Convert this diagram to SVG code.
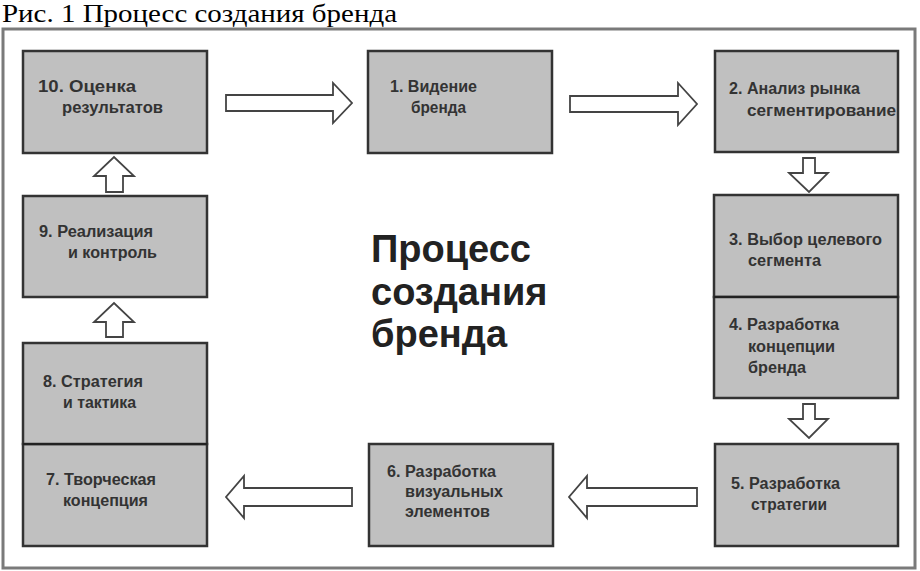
<svg xmlns="http://www.w3.org/2000/svg" width="920" height="571" viewBox="0 0 920 571">
<style>
.box{fill:#c0c0c0;stroke:#333;stroke-width:2.5}
.div{stroke:#222;stroke-width:2}
.lbl{font-family:"Liberation Sans",Arial,sans-serif;font-weight:bold;font-size:16px;fill:#333}
.arr{fill:#fff;stroke:#444;stroke-width:1.8;stroke-linejoin:miter}
.big{font-family:"Liberation Sans",Arial,sans-serif;font-weight:bold;font-size:38px;fill:#222}
.cap{font-family:"Liberation Serif","Times New Roman",serif;font-size:26px;fill:#000}
</style>
<rect width="920" height="571" fill="#fff"/>
<text class="cap" x="2" y="22" textLength="395" lengthAdjust="spacingAndGlyphs">Рис. 1 Процесс создания бренда</text>
<rect x="3" y="29" width="912" height="539" fill="none" stroke="#7a7a7a" stroke-width="3"/>

<g id="title">
<text class="big" x="371" y="262">Процесс</text>
<text class="big" x="371" y="305">создания</text>
<text class="big" x="371" y="347">бренда</text>
</g>

<g id="n10">
<rect class="box" x="23" y="51" width="184" height="102"/>
<text class="lbl" x="38" y="92" textLength="98" lengthAdjust="spacingAndGlyphs">10. Оценка</text>
<text class="lbl" x="62" y="113" textLength="101" lengthAdjust="spacingAndGlyphs">результатов</text>
</g>
<g id="n1">
<rect class="box" x="368" y="51" width="184" height="102"/>
<text class="lbl" x="390" y="92" textLength="87" lengthAdjust="spacingAndGlyphs">1. Видение</text>
<text class="lbl" x="411" y="113" textLength="55" lengthAdjust="spacingAndGlyphs">бренда</text>
</g>
<g id="n2">
<rect class="box" x="715" y="51" width="183" height="101"/>
<text class="lbl" x="729" y="94" textLength="131" lengthAdjust="spacingAndGlyphs">2. Анализ рынка</text>
<text class="lbl" x="747" y="116" textLength="149" lengthAdjust="spacingAndGlyphs">сегментирование</text>
</g>
<g id="n3">
<rect class="box" x="714" y="195" width="184" height="102"/>
<text class="lbl" x="729" y="245" textLength="153" lengthAdjust="spacingAndGlyphs">3. Выбор целевого</text>
<text class="lbl" x="748" y="266" textLength="73" lengthAdjust="spacingAndGlyphs">сегмента</text>
</g>
<g id="n4">
<rect class="box" x="714" y="297" width="184" height="101"/>
<line class="div" x1="714" y1="297" x2="898" y2="297"/>
<text class="lbl" x="729" y="330" textLength="110" lengthAdjust="spacingAndGlyphs">4. Разработка</text>
<text class="lbl" x="748" y="352" textLength="87" lengthAdjust="spacingAndGlyphs">концепции</text>
<text class="lbl" x="748" y="373" textLength="58" lengthAdjust="spacingAndGlyphs">бренда</text>
</g>
<g id="n5">
<rect class="box" x="715" y="444" width="183" height="102"/>
<text class="lbl" x="731" y="489" textLength="109" lengthAdjust="spacingAndGlyphs">5. Разработка</text>
<text class="lbl" x="751" y="510" textLength="76" lengthAdjust="spacingAndGlyphs">стратегии</text>
</g>
<g id="n6">
<rect class="box" x="369" y="444" width="184" height="102"/>
<text class="lbl" x="387" y="477" textLength="109" lengthAdjust="spacingAndGlyphs">6. Разработка</text>
<text class="lbl" x="405" y="497" textLength="98" lengthAdjust="spacingAndGlyphs">визуальных</text>
<text class="lbl" x="405" y="517" textLength="85" lengthAdjust="spacingAndGlyphs">элементов</text>
</g>
<g id="n7">
<rect class="box" x="23" y="444" width="184" height="102"/>
<text class="lbl" x="46" y="485" textLength="110" lengthAdjust="spacingAndGlyphs">7. Творческая</text>
<text class="lbl" x="63" y="506" textLength="85" lengthAdjust="spacingAndGlyphs">концепция</text>
</g>
<g id="n8">
<rect class="box" x="23" y="343" width="184" height="101"/>
<line class="div" x1="23" y1="444" x2="207" y2="444"/>
<text class="lbl" x="43" y="387" textLength="100" lengthAdjust="spacingAndGlyphs">8. Стратегия</text>
<text class="lbl" x="63" y="408" textLength="73" lengthAdjust="spacingAndGlyphs">и тактика</text>
</g>
<g id="n9">
<rect class="box" x="23" y="196" width="184" height="101"/>
<text class="lbl" x="39" y="237" textLength="114" lengthAdjust="spacingAndGlyphs">9. Реализация</text>
<text class="lbl" x="68" y="258" textLength="89" lengthAdjust="spacingAndGlyphs">и контроль</text>
</g>

<g id="connectors">
<polygon class="arr" points="226,95 333,95 333,83 352,103 333,123 333,111 226,111"/>
<polygon class="arr" points="570,96 678,96 678,83 697,104 678,125 678,112 570,112"/>
<polygon class="arr" points="803,158 815,158 815,173 828,173 809,192 789,173 803,173"/>
<polygon class="arr" points="803,404 815,404 815,419 828,419 809,438 789,419 803,419"/>
<polygon class="arr" points="697,488 587,488 587,476 569,497 587,518 587,506 697,506"/>
<polygon class="arr" points="352,488 244,488 244,476 226,497 244,518 244,506 352,506"/>
<polygon class="arr" points="106,192 123,192 123,176 134,176 114,157 94,176 106,176"/>
<polygon class="arr" points="106,337 123,337 123,322 134,322 114,303 94,322 106,322"/>
</g>
</svg>
